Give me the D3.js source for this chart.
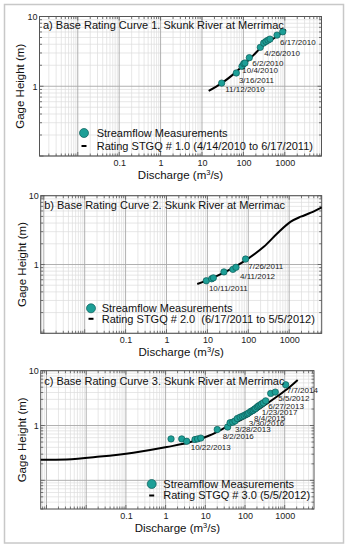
<!DOCTYPE html>
<html><head><meta charset="utf-8">
<script src="https://cdn.jsdelivr.net/npm/d3@7"></script>
<style>body{margin:0;background:#fff}svg{display:block;font-family:"Liberation Sans",Arial,sans-serif}</style>
</head><body><svg id="c" width="350" height="550"></svg>
<script>
// ---------- data ----------
const xTickLabels = [0.1, 1, 10, 100, 1000];
const yTickLabels = [1, 10];
const panelTitles = [
  "a) Base Rating Curve 1. Skunk River at Merrimac",
  "b) Base Rating Curve 2. Skunk River at Merrimac",
  "c) Base Rating Curve 3. Skunk River at Merrimac"
];
const pointLegend = "Streamflow Measurements";
const curveLegends = [
  "Rating STGQ # 1.0 (4/14/2010 to 6/17/2011)",
  "Rating STGQ # 2.0  (6/17/2011 to 5/5/2012)",
  "Rating STGQ # 3.0 (5/5/2012)"
];
const xDomains = [[0.00119, 7700], [0.00084, 6240], [0.000714, 5470]];
const yDomains = [[0.1, 10], [0.1, 10], [0.03, 10]];

const measA = [[29.9,1.11],[67.4,1.55],[92.5,1.93],[101.7,2.11],[109,2.15],[139,2.57],[256,3.61],[309,4.16],[351,4.39],[393,4.58],[439,4.74],[649,5.41],[890,6.04]];
const curveA = [[14.5,0.857],[29.9,1.11],[57,1.48],[99.5,2.0],[173,2.77],[303,3.85],[527,4.8],[1069,6.46]];
const notesA = [["6/17/2010",766,4.25],["4/26/2010",320,2.93],["6/2/2010",164,2.11],["10/4/2010",94,1.68],["3/16/2011",78,1.22],["11/12/2010",36.5,0.897]];

const measB = [[9.4,0.58],[12.7,0.62],[14,0.64],[25.4,0.78],[42,0.85],[50,0.91],[86,1.2]];
const curveB = [[5.65,0.52],[14.4,0.65],[44.7,0.91],[95,1.2],[243,1.82],[516,2.84],[1094,4.19],[1923,4.95],[3382,5.66],[6240,6.78]];
const notesB = [["7/26/2011",100,0.93],["4/11/2012",63,0.67],["10/11/2011",10.9,0.45]];

const measC = [[1.37,0.57],[2.55,0.57],[3.4,0.515],[5.5,0.555],[6.4,0.57],[7.7,0.59],[20,0.845],[36.6,0.94],[42,1.12],[49,1.15],[56,1.21],[64,1.34],[75,1.42],[85,1.47],[95,1.52],[106,1.59],[115,1.63],[124,1.70],[139,1.80],[150,1.85],[162,1.90],[175,2.0],[186,2.05],[204,2.19],[220,2.28],[239,2.36],[260,2.48],[289,2.59],[332,2.82],[444,3.85],[579,4.07],[1059,5.54]];
const curveC = [[0.000714,0.238],[0.00323,0.241],[0.0223,0.271],[0.154,0.320],[1.07,0.405],[4.99,0.515],[13.1,0.664],[34.6,0.942],[90.6,1.34],[239,2.05],[628,3.34],[1361,5.09],[2125,6.76]];
const notesC = [["7/7/2014",1124,4.43],["5/5/2012",690,3.12],["6/27/2013",386,2.29],["1/23/2017",264,1.73],["8/4/2015",169,1.38],["3/30/2016",124,1.09],["3/28/2013",56,0.855],["8/2/2016",27.4,0.637],["10/22/2013",4.29,0.395]];

const measurements = [measA, measB, measC];
const curves = [curveA, curveB, curveC];
const notes = [notesA, notesB, notesC];

// ---------- layout ----------
const layouts = [
  {l:39.5, t:16.5, r:321.5, b:156,   titleDy:12.5, legX:84,    legY1:133,   legY2:146, textX:96.7,  yLabX:20},
  {l:40.7, t:195.7,r:321.7, b:333.3, titleDy:13,   legX:91,    legY1:308.3, legY2:318.8, textX:101.7, yLabX:21.5},
  {l:40.7, t:370.7,r:314,   b:509,   titleDy:14,   legX:151.7, legY1:484,   legY2:495.5, textX:163.3, yLabX:21.5}
];
const teal = "#1d9f97", tealEdge = "#0c5c57";

const svg = d3.select("#c");
svg.append("rect").attr("x",4.5).attr("y",4.5).attr("width",339).attr("height",538.5)
  .attr("fill","#fff").attr("stroke","#c8c8c8").attr("stroke-width",1.5);

function logVals(dom){
  const out = [];
  const k0 = Math.floor(Math.log10(dom[0])), k1 = Math.ceil(Math.log10(dom[1]));
  for (let k=k0;k<=k1;k++) for (let m=1;m<=9;m++){
    const v = m*Math.pow(10,k);
    if (v>=dom[0]*0.9999 && v<=dom[1]*1.0001) out.push({v, major:m===1});
  }
  return out;
}

layouts.forEach((L,i)=>{
  const x = d3.scaleLog().domain(xDomains[i]).range([L.l, L.r]);
  const y = d3.scaleLog().domain(yDomains[i]).range([L.b, L.t]);
  const g = svg.append("g");
  const xv = logVals(xDomains[i]), yv = logVals(yDomains[i]);
  const grid = g.append("g");
  [false,true].forEach(maj=>{
    grid.selectAll(null).data(xv.filter(d=>d.major===maj)).enter().append("line")
      .attr("x1",d=>x(d.v)).attr("x2",d=>x(d.v)).attr("y1",L.t).attr("y2",L.b)
      .attr("stroke",maj?"#a8a8a8":"#dcdcdc").attr("stroke-width",maj?0.9:0.7);
    grid.selectAll(null).data(yv.filter(d=>d.major===maj)).enter().append("line")
      .attr("y1",d=>y(d.v)).attr("y2",d=>y(d.v)).attr("x1",L.l).attr("x2",L.r)
      .attr("stroke",maj?"#a8a8a8":"#dcdcdc").attr("stroke-width",maj?0.9:0.7);
  });
  const tk = g.append("g").attr("stroke","#555").attr("stroke-width",0.8);
  xv.forEach(d=>{
    const len = d.major?4:2.5, px = x(d.v);
    tk.append("line").attr("x1",px).attr("x2",px).attr("y1",L.b).attr("y2",L.b-len);
    tk.append("line").attr("x1",px).attr("x2",px).attr("y1",L.t).attr("y2",L.t+len);
  });
  yv.forEach(d=>{
    const len = d.major?4:2.5, py = y(d.v);
    tk.append("line").attr("y1",py).attr("y2",py).attr("x1",L.l).attr("x2",L.l+len);
    tk.append("line").attr("y1",py).attr("y2",py).attr("x1",L.r).attr("x2",L.r-len);
  });
  g.append("rect").attr("x",L.l).attr("y",L.t).attr("width",L.r-L.l).attr("height",L.b-L.t)
    .attr("fill","none").attr("stroke","#555").attr("stroke-width",1);

  const ax = g.append("g").attr("transform",`translate(0,${L.b})`)
    .call(d3.axisBottom(x).tickValues(xTickLabels).tickFormat(d=>String(d)).tickSize(0).tickPadding(3.5));
  const ay = g.append("g").attr("transform",`translate(${L.l},0)`)
    .call(d3.axisLeft(y).tickValues(yTickLabels).tickFormat(d=>String(d)).tickSize(0).tickPadding(2));
  [ax,ay].forEach(a=>{a.select(".domain").remove(); a.selectAll("text").attr("font-size",9).attr("fill","#222").attr("font-family","Liberation Sans, Arial, sans-serif");});

  g.append("path").datum(curves[i])
    .attr("d", d3.line().x(d=>x(d[0])).y(d=>y(d[1])).curve(d3.curveMonotoneX))
    .attr("fill","none").attr("stroke","#000").attr("stroke-width",2);
  g.selectAll(null).data(measurements[i]).enter().append("circle")
    .attr("cx",d=>x(d[0])).attr("cy",d=>y(d[1])).attr("r",3.2)
    .attr("fill",teal).attr("stroke",tealEdge).attr("stroke-width",0.7);
  g.selectAll(null).data(notes[i]).enter().append("text")
    .attr("x",d=>x(d[1])).attr("y",d=>y(d[2])).attr("dy","0.35em")
    .attr("font-size",8).attr("fill","#222").text(d=>d[0]);
  g.append("text").attr("x",L.l+3.5).attr("y",L.t+L.titleDy).attr("font-size",11).attr("fill","#111").text(panelTitles[i]);
  g.append("circle").attr("cx",L.legX).attr("cy",L.legY1).attr("r",4.5).attr("fill",teal).attr("stroke",tealEdge).attr("stroke-width",0.7);
  g.append("text").attr("x",L.textX).attr("y",L.legY1).attr("dy","0.36em").attr("font-size",11).attr("fill","#111").text(pointLegend);
  g.append("line").attr("x1",L.legX-2.5).attr("x2",L.legX+2.5).attr("y1",L.legY2).attr("y2",L.legY2).attr("stroke","#000").attr("stroke-width",2);
  g.append("text").attr("x",L.textX).attr("y",L.legY2).attr("dy","0.36em").attr("font-size",11).attr("fill","#111")
    .style("white-space","pre").text(curveLegends[i]);
  const xl = g.append("text").attr("x",(L.l+L.r)/2).attr("y",L.b+23).attr("text-anchor","middle").attr("font-size",11.5).attr("fill","#111");
  xl.append("tspan").text("Discharge (m");
  xl.append("tspan").attr("font-size",7.5).attr("dy",-4).text("3");
  xl.append("tspan").attr("dy",4).text("/s)");
  g.append("text").attr("transform",`translate(${L.yLabX+4},${(L.t+L.b)/2}) rotate(-90)`).attr("text-anchor","middle")
    .attr("font-size",11.5).attr("fill","#111").text("Gage Height (m)");
});
</script></body></html>
